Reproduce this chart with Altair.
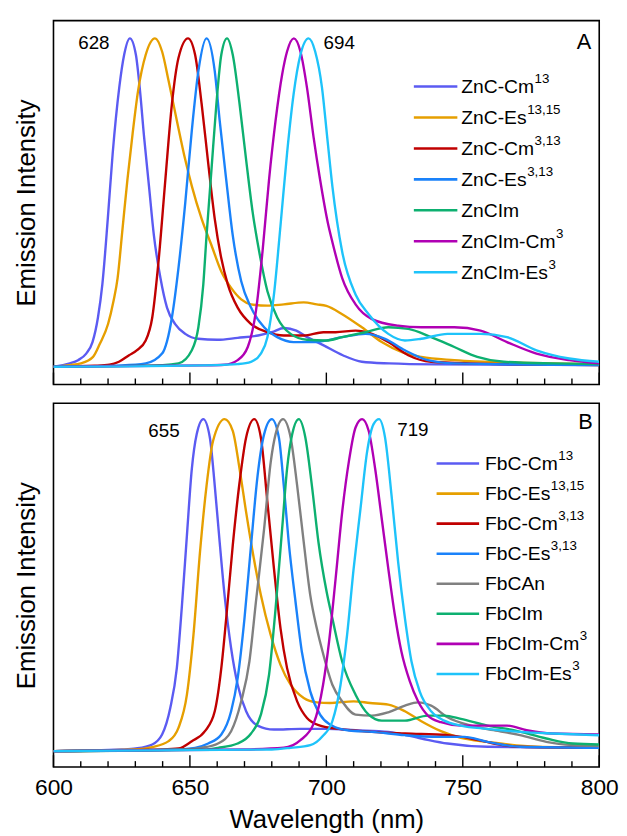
import altair as alt
import pandas as pd

FONT = "Liberation Sans"

# ---------------- axis ticks ----------------
MAJOR_TICKS = [600, 650, 700, 750, 800]
MINOR_TICKS = [610, 620, 630, 640, 660, 670, 680, 690, 710, 720, 730, 740, 760, 770, 780, 790]

# ---------------- panel A : Zn chlorins ----------------
A_CM13_WL = [600, 606, 609, 612, 614.3, 616.3, 617.9, 619.9, 621.7, 624.1, 625.9, 628, 630.2, 631.6, 633.2, 635, 636.8, 639.2, 641.6, 644.6, 648.3, 653, 660, 667.5, 675, 680, 684.5, 689, 693, 699, 706, 713, 723, 740, 770, 800]
A_CM13_I = [0.0, 0.01, 0.02, 0.04, 0.075, 0.15, 0.25, 0.45, 0.65, 0.85, 0.95, 1.0, 0.95, 0.85, 0.70, 0.55, 0.40, 0.27, 0.18, 0.13, 0.10, 0.085, 0.082, 0.088, 0.095, 0.105, 0.118, 0.11, 0.09, 0.065, 0.035, 0.015, 0.01, 0.007, 0.006, 0.005]

A_ES1315_WL = [600, 606, 610, 614.5, 617, 620, 622, 623.5, 625.3, 627.1, 629, 631, 633.8, 637.2, 639.8, 642.2, 645.2, 648.3, 650.7, 654.3, 657.9, 661.5, 665.1, 668.8, 672.4, 678.4, 684.4, 691.7, 696.5, 700, 705.8, 713, 720.3, 727.5, 734.8, 746.9, 771, 800]
A_ES1315_I = [0.0, 0.005, 0.01, 0.03, 0.07, 0.13, 0.2, 0.27, 0.42, 0.57, 0.71, 0.84, 0.95, 1.0, 0.96, 0.87, 0.75, 0.63, 0.55, 0.45, 0.37, 0.29, 0.24, 0.205, 0.19, 0.186, 0.19, 0.196, 0.19, 0.185, 0.16, 0.12, 0.075, 0.045, 0.03, 0.02, 0.012, 0.008]

A_CM313_WL = [600, 615, 620.5, 624, 627.7, 630.5, 633.8, 636.2, 638.6, 641, 643.4, 645.8, 649.3, 651.9, 654.3, 656.7, 659.1, 661.5, 663.9, 667.5, 672.4, 678.4, 684.4, 691.7, 698.9, 703.4, 710.7, 716.7, 722.7, 730, 738.4, 752.9, 800]
A_CM313_I = [0.0, 0.003, 0.006, 0.015, 0.035, 0.05, 0.08, 0.15, 0.33, 0.57, 0.8, 0.94, 1.0, 0.95, 0.8, 0.62, 0.45, 0.33, 0.25, 0.18, 0.13, 0.105, 0.095, 0.095, 0.105, 0.105, 0.11, 0.1, 0.075, 0.035, 0.015, 0.01, 0.005]

A_ES313_WL = [600, 625, 633.8, 639.8, 643.4, 645.8, 648.3, 650.7, 653.1, 656.1, 659.1, 660.9, 663.3, 665.7, 668.8, 672.4, 677.2, 682, 688, 695.3, 705.8, 714.3, 721.5, 728.8, 737.2, 746.9, 800]
A_ES313_I = [0.0, 0.004, 0.01, 0.04, 0.15, 0.3, 0.5, 0.72, 0.9, 1.0, 0.9, 0.75, 0.57, 0.4, 0.26, 0.18, 0.12, 0.09, 0.075, 0.075, 0.09, 0.1, 0.085, 0.05, 0.02, 0.01, 0.005]

A_IM_WL = [600, 640, 645.8, 650.7, 653.1, 654.9, 656.1, 657.9, 659.7, 661.5, 663.6, 665.7, 668.2, 670.6, 673, 675.4, 678.4, 682, 686.9, 692.9, 700, 705.8, 714.3, 722.7, 730, 738.4, 746.9, 755.3, 765, 783, 800]
A_IM_I = [0.0, 0.005, 0.01, 0.05, 0.12, 0.25, 0.4, 0.6, 0.8, 0.95, 1.0, 0.95, 0.8, 0.63, 0.47, 0.35, 0.23, 0.15, 0.1, 0.082, 0.08, 0.09, 0.105, 0.12, 0.115, 0.09, 0.06, 0.03, 0.015, 0.01, 0.008]

A_IMCM3_WL = [600, 655, 662.7, 667.5, 671.2, 674.2, 676.6, 679, 681.4, 683.8, 685.6, 688.1, 690.5, 692.9, 695.3, 697.7, 700.5, 702.2, 705.8, 710.7, 716.7, 726.3, 734.8, 746.9, 756.5, 766.2, 777, 789, 800]
A_IMCM3_I = [0.0, 0.004, 0.006, 0.02, 0.06, 0.17, 0.35, 0.57, 0.75, 0.89, 0.96, 1.0, 0.96, 0.85, 0.7, 0.57, 0.44, 0.38, 0.27, 0.19, 0.145, 0.125, 0.12, 0.12, 0.11, 0.075, 0.04, 0.02, 0.01]

A_IMES3_WL = [600, 660, 667.5, 672.4, 676, 678.4, 680.8, 683.2, 685.6, 688, 690.5, 693.5, 695.9, 698.4, 700.3, 702.2, 705.8, 710.7, 715.5, 722.7, 728.8, 734.8, 744.4, 756.5, 766.2, 777, 789, 800]
A_IMES3_I = [0.0, 0.005, 0.008, 0.015, 0.04, 0.09, 0.22, 0.43, 0.65, 0.83, 0.95, 1.0, 0.96, 0.85, 0.7, 0.55, 0.35, 0.22, 0.16, 0.1, 0.08, 0.085, 0.1, 0.1, 0.09, 0.05, 0.025, 0.015]

A_BASE = ["ZnC-Cm", "ZnC-Es", "ZnC-Cm", "ZnC-Es", "ZnCIm", "ZnCIm-Cm", "ZnCIm-Es"]
A_SUP = ["13", "13,15", "3,13", "3,13", "", "3", "3"]
A_COLORS = ["#5B5BF2", "#E69F00", "#C00000", "#1A82FA", "#0DB070", "#B000B4", "#1EC3FA"]
A_SERIES = [(A_CM13_WL, A_CM13_I), (A_ES1315_WL, A_ES1315_I), (A_CM313_WL, A_CM313_I),
            (A_ES313_WL, A_ES313_I), (A_IM_WL, A_IM_I), (A_IMCM3_WL, A_IMCM3_I), (A_IMES3_WL, A_IMES3_I)]
A_PEAKS = [("628", 614.8, 0.986), ("694", 704.7, 0.986)]

# ---------------- panel B : free-base chlorins ----------------
B_CM13_WL = [600, 625, 630.2, 636.2, 639.8, 642.8, 645.2, 647, 648.9, 650.7, 652.5, 654.9, 657.3, 659.1, 660.9, 662.7, 665.1, 667.5, 670.6, 674.8, 680.8, 690.5, 700, 710.7, 722.7, 734.8, 744.4, 759, 800]
B_CM13_I = [0.0, 0.005, 0.008, 0.02, 0.05, 0.13, 0.25, 0.43, 0.65, 0.85, 0.955, 1.0, 0.945, 0.8, 0.63, 0.47, 0.31, 0.2, 0.12, 0.077, 0.065, 0.067, 0.067, 0.063, 0.058, 0.038, 0.023, 0.013, 0.01]

B_ES1315_WL = [600, 630, 636.2, 642.2, 645.8, 648.9, 651.3, 653.7, 656.1, 658.5, 662.7, 665.7, 668.2, 670.6, 673, 676, 679.6, 683.2, 686.9, 691.7, 696.5, 701.3, 710, 716, 722.7, 728.8, 734.8, 742, 749.3, 759, 777, 800]
B_ES1315_I = [0.0, 0.005, 0.012, 0.03, 0.07, 0.17, 0.35, 0.6, 0.8, 0.935, 1.0, 0.965, 0.85, 0.72, 0.6, 0.47, 0.35, 0.26, 0.2, 0.16, 0.147, 0.145, 0.15, 0.145, 0.14, 0.12, 0.09, 0.06, 0.04, 0.028, 0.013, 0.01]

B_CM313_WL = [600, 640, 645.8, 650.7, 655.5, 659.1, 661.5, 663.3, 665.7, 668.2, 670.6, 673.6, 676, 678.4, 680.8, 683.2, 685.6, 689.3, 692.9, 697.7, 704.6, 716.7, 728.8, 744.4, 753, 761.3, 771, 800]
B_CM313_I = [0.0, 0.005, 0.008, 0.03, 0.06, 0.12, 0.25, 0.4, 0.62, 0.81, 0.945, 1.0, 0.945, 0.75, 0.55, 0.37, 0.25, 0.15, 0.1, 0.077, 0.067, 0.058, 0.053, 0.048, 0.038, 0.023, 0.013, 0.01]

B_ES313_WL = [600, 645, 651.9, 656.7, 661.5, 665.1, 667.5, 670, 672.4, 674.8, 677.2, 680, 682.6, 684.4, 686.2, 688.7, 691, 694.1, 697.7, 701.3, 708.3, 716.7, 728.8, 740.8, 750.5, 759, 771, 800]
B_ES313_I = [0.0, 0.005, 0.01, 0.023, 0.05, 0.12, 0.22, 0.4, 0.62, 0.83, 0.955, 1.0, 0.945, 0.8, 0.63, 0.45, 0.3, 0.18, 0.11, 0.08, 0.062, 0.058, 0.048, 0.043, 0.043, 0.028, 0.013, 0.01]

B_AN_WL = [600, 648, 654.3, 660.3, 665.1, 668.8, 671.8, 674.2, 677.2, 679.6, 681.4, 684.1, 686.9, 689.3, 691.7, 694.1, 696.5, 698.6, 702.2, 705.8, 710.7, 716.7, 722.7, 728.8, 733.6, 738.4, 744.4, 753, 761.3, 771, 780.6, 790.3, 800]
B_AN_I = [0.0, 0.005, 0.01, 0.023, 0.06, 0.15, 0.27, 0.45, 0.67, 0.87, 0.955, 1.0, 0.945, 0.8, 0.63, 0.47, 0.37, 0.3, 0.2, 0.15, 0.11, 0.107, 0.117, 0.137, 0.147, 0.137, 0.102, 0.077, 0.063, 0.048, 0.028, 0.018, 0.015]

B_IM_WL = [600, 655, 660.3, 667.5, 672.4, 676, 679, 681.4, 683.8, 685.6, 687.5, 689.9, 692.3, 694.7, 697.1, 700.1, 702.2, 705.8, 710.7, 715.5, 720.3, 728.8, 737.2, 743.2, 749.3, 759, 768.6, 780.6, 790.3, 800]
B_IM_I = [0.0, 0.005, 0.01, 0.023, 0.053, 0.11, 0.23, 0.43, 0.67, 0.85, 0.955, 1.0, 0.945, 0.8, 0.63, 0.48, 0.4, 0.27, 0.17, 0.11, 0.092, 0.092, 0.107, 0.107, 0.097, 0.077, 0.063, 0.038, 0.023, 0.02]

B_IMCM3_WL = [600, 670, 684.4, 690.5, 695.3, 698.8, 701, 703.4, 705.8, 708.3, 710.7, 713.1, 715.5, 717.9, 720.3, 722.7, 725.1, 727.5, 730.6, 733.6, 737.2, 742, 749.3, 759, 766.2, 773.4, 783, 800]
B_IMCM3_I = [0.0, 0.005, 0.01, 0.033, 0.082, 0.2, 0.33, 0.52, 0.72, 0.875, 0.975, 1.0, 0.965, 0.85, 0.7, 0.55, 0.41, 0.3, 0.21, 0.15, 0.107, 0.087, 0.077, 0.077, 0.077, 0.063, 0.053, 0.05]

B_IMES3_WL = [600, 680, 686.9, 694.1, 698.6, 702.2, 705.2, 707.6, 710, 712.5, 714.9, 717.3, 719.3, 721.5, 723.9, 726.3, 728.8, 731.2, 734.2, 738.4, 743.2, 749.3, 759, 771, 783, 800]
B_IMES3_I = [0.0, 0.005, 0.01, 0.018, 0.045, 0.09, 0.2, 0.35, 0.55, 0.73, 0.9, 0.985, 1.0, 0.945, 0.77, 0.57, 0.4, 0.27, 0.18, 0.12, 0.092, 0.077, 0.067, 0.058, 0.053, 0.048]

B_BASE = ["FbC-Cm", "FbC-Es", "FbC-Cm", "FbC-Es", "FbCAn", "FbCIm", "FbCIm-Cm", "FbCIm-Es"]
B_SUP = ["13", "13,15", "3,13", "3,13", "", "", "3", "3"]
B_COLORS = ["#5B5BF2", "#E69F00", "#C00000", "#1A82FA", "#808080", "#0DB070", "#B000B4", "#1EC3FA"]
B_SERIES = [(B_CM13_WL, B_CM13_I), (B_ES1315_WL, B_ES1315_I), (B_CM313_WL, B_CM313_I),
            (B_ES313_WL, B_ES313_I), (B_AN_WL, B_AN_I), (B_IM_WL, B_IM_I),
            (B_IMCM3_WL, B_IMCM3_I), (B_IMES3_WL, B_IMES3_I)]
B_PEAKS = [("655", 640.5, 0.965), ("719", 731.7, 0.967)]

# ---------------- layout / style ----------------
W, H = 552, 368
LINE_W = 2.4
LEG_FONT, SUP_FONT = 19.5, 13.5
ARIAL_W = {"Z": .611, "n": .556, "C": .722, "-": .333, "m": .833, "E": .667, "s": .5,
           "I": .278, "F": .611, "b": .556, "A": .667}


def text_width(s, size):
    return sum(ARIAL_W.get(c, .556) for c in s) * size


def panel(series, bases, sups, colors, peaks, letter, ydomain, leg, letter_xy, show_x):
    xscale = alt.Scale(domain=[600, 800], nice=False, zero=False)
    yscale = alt.Scale(domain=ydomain, nice=False, zero=False)
    if show_x:
        xaxis = alt.Axis(values=MAJOR_TICKS, format="d", labelFontSize=23, labelFont=FONT,
                         labelColor="black", labelPadding=10, ticks=False, tickSize=0,
                         domain=False, grid=False, labelFlush=False,
                         title="Wavelength (nm)", titleFontSize=26, titleFont=FONT,
                         titleFontWeight="normal", titleColor="black", titlePadding=7)
    else:
        xaxis = alt.Axis(labels=False, ticks=False, tickSize=0, domain=False, grid=False, title=None)
    yaxis = alt.Axis(labels=False, ticks=False, tickSize=0, domain=False, grid=False,
                     title="Emission Intensity", titleFontSize=26, titleFont=FONT,
                     titleFontWeight="normal", titleColor="black", titlePadding=14)
    X = alt.X("wl:Q", scale=xscale, axis=xaxis)
    Y = alt.Y("v:Q", scale=yscale, axis=yaxis)

    layers = []
    for (wl, iv), col in zip(series, colors):
        df = pd.DataFrame({"wl": wl, "v": iv})
        layers.append(alt.Chart(df).mark_line(interpolate="monotone", strokeWidth=LINE_W,
                                              color=col, clip=True).encode(x=X, y=Y))
    # inward ticks on the bottom edge
    layers.append(alt.Chart(pd.DataFrame({"wl": MINOR_TICKS})).mark_rule(color="black", strokeWidth=1.4)
                  .encode(x=X, y=alt.value(H), y2=alt.value(H - 6)))
    layers.append(alt.Chart(pd.DataFrame({"wl": MAJOR_TICKS})).mark_rule(color="black", strokeWidth=1.4)
                  .encode(x=X, y=alt.value(H), y2=alt.value(H - 12)))
    # peak labels
    pk = pd.DataFrame({"t": [p[0] for p in peaks], "wl": [p[1] for p in peaks], "v": [p[2] for p in peaks]})
    layers.append(alt.Chart(pk).mark_text(font=FONT, fontSize=19, color="black", baseline="middle")
                  .encode(x=X, y=Y, text="t:N"))
    # manual legend
    one = pd.DataFrame({"a": [0]})
    lx0, lx1, tx, ly0, step = leg
    for i, (b, s, col) in enumerate(zip(bases, sups, colors)):
        yy = ly0 + i * step
        layers.append(alt.Chart(one).mark_rule(color=col, strokeWidth=2.6)
                      .encode(x=alt.value(lx0), x2=alt.value(lx1), y=alt.value(yy)))
        layers.append(alt.Chart(one).mark_text(font=FONT, fontSize=LEG_FONT, align="left",
                                               baseline="alphabetic", color="black")
                      .encode(x=alt.value(tx), y=alt.value(yy + 6.5), text=alt.value(b)))
        if s:
            sx = tx + text_width(b, LEG_FONT) + 0.5
            layers.append(alt.Chart(one).mark_text(font=FONT, fontSize=SUP_FONT, align="left",
                                                   baseline="alphabetic", color="black")
                          .encode(x=alt.value(sx), y=alt.value(yy - 3.5), text=alt.value(s)))
    layers.append(alt.Chart(one).mark_text(font=FONT, fontSize=22, align="center",
                                           baseline="middle", color="black")
                  .encode(x=alt.value(letter_xy[0]), y=alt.value(letter_xy[1]), text=alt.value(letter)))
    return alt.layer(*layers).properties(width=W, height=H)


pA = panel(A_SERIES, A_BASE, A_SUP, A_COLORS, A_PEAKS, "A", [-0.054, 1.054],
           (364.5, 408.5, 412.5, 66.7, 31.3), (536.5, 21.7), False)
pB = panel(B_SERIES, B_BASE, B_SUP, B_COLORS, B_PEAKS, "B", [-0.048, 1.048],
           (387.5, 430.5, 436.5, 61, 30.4), (538, 19), True)

chart = (alt.vconcat(pA, pB, spacing=16)
         .properties(padding={"left": 5, "top": 7, "right": 0, "bottom": 0})
         .configure_view(stroke="black", strokeWidth=1.6)
         .configure_axis(grid=False))

chart.save("out.html", embed_options={"renderer": "svg", "actions": False})
